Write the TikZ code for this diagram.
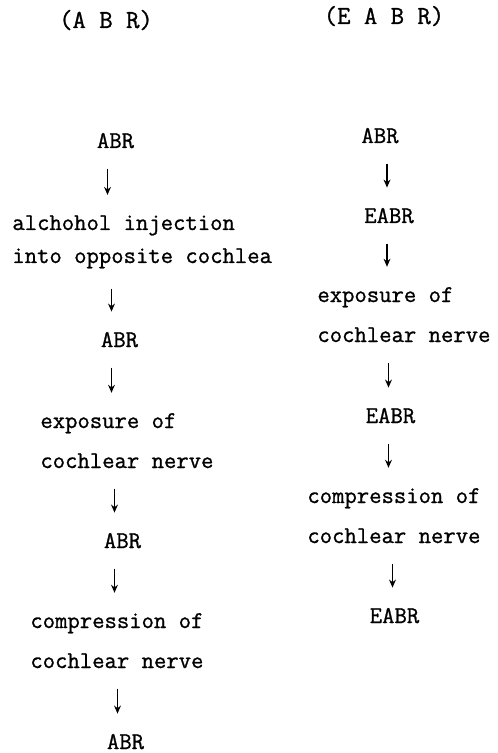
\documentclass[tikz,border=0pt]{standalone}
\usepackage{fontspec}
\newfontfamily\stepfont[FakeBold=1]{Latin Modern Mono}
\usetikzlibrary{arrows.meta}
\tikzset{
  %% column headings
  hdr/.style={font=\fontsize{13}{15}\selectfont\stepfont,inner sep=0pt,anchor=base},
  %% one-line step (ABR / EABR)
  stp/.style={font=\fontsize{12}{20}\selectfont\stepfont,inner sep=0pt,anchor=base},
  %% two-line step (placed by its last line)
  blk/.style={stp,align=left,anchor=base west},
  %% arrows
  arr/.style={-{Stealth[length=4pt,width=3.4pt]},line width=0.8pt,
    shorten <=10pt,shorten >=10pt},
}
\begin{document}
\begin{tikzpicture}[x=0.5pt,y=-0.5pt]
  \useasboundingbox (0,0) rectangle (497,753);

  %% headings
  \node[hdr] (habr)  at (106,28) {(A B R)};
  \node[hdr] (heabr) at (384,24) {(E A B R)};

  %% ABR column
  \node[stp] (abr1) at (115.5,148) {ABR};
  \node[blk] (alc)  at (12,263)    {alchohol injection\\[-3.5pt]into opposite cochlea};
  \node[stp] (abr2) at (119.5,347) {ABR};
  \node[blk] (exp1) at (40,468)    {exposure of\\cochlear nerve};
  \node[stp] (abr3) at (122.5,548) {ABR};
  \node[blk] (cmp1) at (30,668)    {compression of\\cochlear nerve};
  \node[stp] (abr4) at (125.5,749) {ABR};

  %% EABR column
  \node[stp] (abr5)  at (380,143)   {ABR};
  \node[stp] (eabr1) at (389,223)   {EABR};
  \node[blk] (exp2)  at (317,342)   {exposure of\\cochlear nerve};
  \node[stp] (eabr2) at (390.5,423) {EABR};
  \node[blk] (cmp2)  at (307,543)   {compression of\\cochlear nerve};
  \node[stp] (eabr3) at (394.5,623) {EABR};

  %% ── arrows ──────────────────────────────────────────
  %% ABR column
  \draw[arr] ([xshift=-4pt]abr1.south) -- ([xshift=-4pt]abr1.south |- alc.north);
  \draw[arr] ([xshift=-4pt]abr2.north |- alc.south) -- ([xshift=-4pt]abr2.north);
  \draw[arr] ([xshift=-4pt]abr2.south) -- ([xshift=-4pt]abr2.south |- exp1.north);
  \draw[arr] ([xshift=-4pt]abr3.north |- exp1.south) -- ([xshift=-4pt]abr3.north);
  \draw[arr] ([xshift=-4pt]abr3.south) -- ([xshift=-4pt]abr3.south |- cmp1.north);
  \draw[arr] ([xshift=-4pt]abr4.north |- cmp1.south) -- ([xshift=-4pt]abr4.north);

  %% EABR column
  \draw[arr] ([xshift=-1pt]eabr1.north |- abr5.south) -- ([xshift=-1pt]eabr1.north);
  \draw[arr] ([xshift=-1pt]eabr1.south) -- ([xshift=-1pt]eabr1.south |- exp2.north);
  \draw[arr] ([xshift=-1pt]eabr2.north |- exp2.south) -- ([xshift=-1pt]eabr2.north);
  \draw[arr] ([xshift=-1pt]eabr2.south) -- ([xshift=-1pt]eabr2.south |- cmp2.north);
  \draw[arr] ([xshift=-1pt]eabr3.north |- cmp2.south) -- ([xshift=-1pt]eabr3.north);

\end{tikzpicture}
\end{document}
